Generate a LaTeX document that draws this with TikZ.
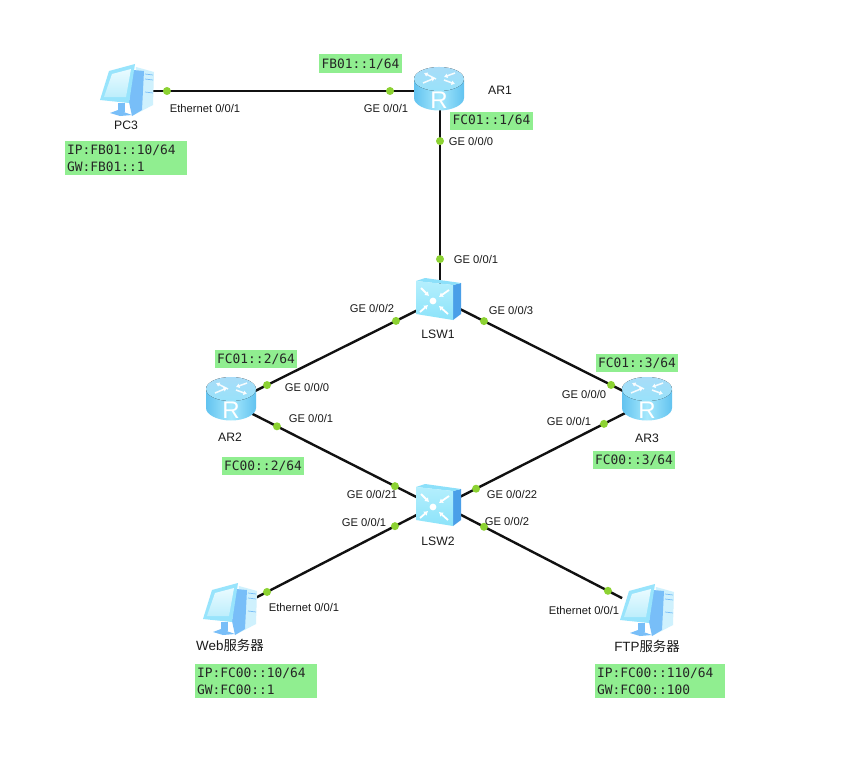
\documentclass[tikz,border=0pt]{standalone}
\usepackage{fontspec}
\setmainfont{Liberation Sans}
\newfontfamily\cjkfam{Noto Sans CJK SC}
\newfontfamily\boxfam{DejaVu Sans Mono}
\usetikzlibrary{arrows.meta}
\definecolor{linkc}{HTML}{111111}
\definecolor{dotc}{HTML}{8CD232}
\definecolor{boxc}{HTML}{90EE90}
\definecolor{txtc}{HTML}{1A1A1A}
\definecolor{rside}{HTML}{62C3F0}
\definecolor{rmid}{HTML}{A6E8FC}
\definecolor{rtopa}{HTML}{A8DCF8}
\definecolor{rtopb}{HTML}{98E2FA}
\definecolor{swtop}{HTML}{8CE0FA}
\definecolor{swside}{HTML}{4A9FE8}
\definecolor{swa}{HTML}{B4EFFD}
\definecolor{swb}{HTML}{8CE3FA}
\definecolor{pcdark}{HTML}{78BEF8}
\definecolor{pclight}{HTML}{CFF1FD}
\definecolor{pcmon}{HTML}{98E4FC}
\definecolor{pcscra}{HTML}{EAFBFF}
\definecolor{pcscrb}{HTML}{BDEEFC}
\tikzset{
  x=1pt,y=-1pt,
  device/.style={inner sep=0pt,minimum width=50pt,minimum height=44pt},
  link/.style={draw=linkc,line width=2.4pt},
  port/.style={circle,fill=dotc,inner sep=0pt,minimum size=8pt},
  lbl/.style={inner sep=0pt,font=\fontsize{11.2}{13}\selectfont,text=txtc},
  dev/.style={inner sep=0pt,font=\fontsize{12.2}{14}\selectfont,text=txtc},
  srv/.style={inner sep=0pt,font=\fontsize{13.4}{15}\selectfont,text=txtc},
  gbox/.style={fill=boxc,inner sep=0pt,align=left,text=black!85,
    font=\fontsize{12.9}{17}\selectfont\boxfam},
  gboxtwo/.style={gbox,inner xsep=2pt,minimum height=34pt},
  arr/.style={draw=white,line width=1.8pt,-{Latex[length=4pt,width=5.5pt]}},
  rarr/.style={draw=white,line width=1.5pt,opacity=.9,-{Latex[length=3.5pt,width=5pt]}},
  router/.pic={
    \path[left color=rside,right color=rside,middle color=rmid]
      (-25,-9) -- (-25,9) .. controls (-25,15.6) and (-13.8,21.5) .. (0,21.5)
      .. controls (13.8,21.5) and (25,15.6) .. (25,9) -- (25,-9) -- cycle;
    \fill[top color=rtopa,bottom color=rtopb] (0,-10) ellipse [x radius=25pt,y radius=12pt];
    \draw[rarr] (-3,-10) -- (-15,-16);
    \draw[rarr] (16,-16) -- (5,-12);
    \draw[rarr] (-16,-6) -- (-4,-11);
    \draw[rarr] (5,-9) -- (16,-5);
    \node[text=white,inner sep=0pt,font=\fontsize{24}{24}\selectfont] at (0,11) {R};
  },
  switchicon/.pic={
    \fill[color=swside] (15,-14) -- (23,-16) -- (23,15) -- (15,21) -- cycle;
    \fill[color=swtop] (-22,-18) -- (-13,-21) -- (23,-16) -- (15,-14) -- cycle;
    \path[top color=swa,bottom color=swb]
      (-22,-18) -- (15,-14) -- (15,21) -- (-22,15) -- cycle;
    \fill[white] (-5,2) circle [radius=3.4pt];
    \draw[arr] (-17,-11) -- (-9,-3);
    \draw[arr] (11,-9) -- (1,-2);
    \draw[arr] (-18,13) -- (-10,6);
    \draw[arr] (10,15) -- (1,7);
  },
  pcicon/.pic={
    \fill[color=pclight] (9,-25) -- (27,-20) -- (26,13) -- (5,24) -- cycle;
    \fill[color=pcdark] (6,-22) -- (17,-21) -- (15,18) -- (5,24) -- (2,10) -- cycle;
    \draw[pcdark,line width=.7pt] (18,-18) -- (26,-17) (18,-13) -- (26,-12) (18,0) -- (26,1);
    \fill[color=pcdark] (-9,11) -- (-2,11) -- (-2,20) -- (-9,20) -- cycle;
    \fill[color=pcdark] (-17,21) -- (-9,18) -- (5,23) -- (-7,24) -- cycle;
    \fill[color=pcmon] (-18,-21) -- (8,-28) -- (2,11) -- (-27,8) -- cycle;
    \path[top color=pcscra,bottom color=pcscrb] (-15,-18) -- (4,-23) -- (-1,5) -- (-23,5) -- cycle;
  },
}
\begin{document}
\begin{tikzpicture}
\useasboundingbox (0,0) rectangle (865,768);
\fill[white] (0,0) rectangle (865,768);
% device anchors
\node[device] (pc3) at (127,92) {};
\node[device] (ar1) at (439,89) {};
\node[device] (lsw1) at (438,299) {};
\node[device] (ar2) at (231,399) {};
\node[device] (ar3) at (647,399) {};
\node[device] (lsw2) at (438,505) {};
\node[device] (web) at (230,611) {};
\node[device] (ftp) at (647,612) {};
% connectors
\draw[link,shorten <=26pt] ([yshift=1pt]pc3.center) -- node[port,pos=.128] (p1) {} node[port,pos=.843] (p2) {} ([yshift=-2pt]ar1.center);
\draw[link] ([xshift=1pt]ar1.center) -- node[port,pos=.248] (p3) {} node[port,pos=.81] (p4) {} ([xshift=2pt]lsw1.center);
\draw[link] ([yshift=-1pt]lsw1.center) -- node[port,pos=.203] (p5) {} node[port,pos=.826] (p6) {} ([yshift=-4pt]ar2.center);
\draw[link] ([yshift=1pt]lsw1.center) -- node[port,pos=.22] (p7) {} node[port,pos=.828] (p8) {} ([yshift=-4pt]ar3.center);
\draw[link] ([yshift=-4pt]ar2.center) -- node[port,pos=.222] (p9) {} node[port,pos=.792] (p10) {} ([yshift=-3pt]lsw2.center);
\draw[link] ([yshift=-3pt]ar3.center) -- node[port,pos=.206] (p11) {} node[port,pos=.818] (p12) {} ([yshift=-3pt]lsw2.center);
\draw[link,shorten >=30pt] ([yshift=1pt]lsw2.center) -- node[port,pos=.207] (p13) {} node[port,pos=.822] (p14) {} (web.center);
\draw[link,shorten >=28pt] ([yshift=2pt]lsw2.center) -- node[port,pos=.22] (p15) {} node[port,pos=.813] (p16) {} ([yshift=1pt]ftp.center);
% icons
\pic at (pc3) {pcicon};
\pic at (web) {pcicon};
\pic at (ftp) {pcicon};
\pic at (ar1) {router};
\pic at (ar2) {router};
\pic at (ar3) {router};
\pic at (lsw1) {switchicon};
\pic at (lsw2) {switchicon};
% device labels
\node[dev] (tpc3) at (126,125) {PC3};
\node[dev] (tar1) at (500,90) {AR1};
\node[dev] (tar2) at (230,437) {AR2};
\node[dev] (tar3) at (647,438) {AR3};
\node[dev] (tl1) at (438,334) {LSW1};
\node[dev] (tl2) at (438,541) {LSW2};
\node[srv] (tweb) at (230,645) {Web{\cjkfam 服务器}};
\node[srv] (tftp) at (647,646) {FTP{\cjkfam 服务器}};
% port labels
\node[lbl] (e1) at (205,108) {Ethernet 0/0/1};
\node[lbl] (e2) at (386,108) {GE 0/0/1};
\node[lbl] (e3) at (471,141) {GE 0/0/0};
\node[lbl] (e4) at (476,259) {GE 0/0/1};
\node[lbl] (e5) at (372,308) {GE 0/0/2};
\node[lbl] (e6) at (511,310) {GE 0/0/3};
\node[lbl] (e7) at (307,387) {GE 0/0/0};
\node[lbl] (e8) at (311,418) {GE 0/0/1};
\node[lbl] (e9) at (584,394) {GE 0/0/0};
\node[lbl] (e10) at (569,421) {GE 0/0/1};
\node[lbl] (e11) at (372,494) {GE 0/0/21};
\node[lbl] (e12) at (512,494) {GE 0/0/22};
\node[lbl] (e13) at (364,522) {GE 0/0/1};
\node[lbl] (e14) at (507,521) {GE 0/0/2};
\node[lbl] (e15) at (304,607) {Ethernet 0/0/1};
\node[lbl] (e16) at (584,610) {Ethernet 0/0/1};
% address boxes
\node[gbox,minimum width=83pt,minimum height=19pt] (b1) at (360.5,64) {FB01::1/64};
\node[gbox,minimum width=83pt,minimum height=18pt] (b2) at (491.5,120.5) {FC01::1/64};
\node[gboxtwo,text width=118pt] (b3) at (126,158) {IP:FB01::10/64\\GW:FB01::1};
\node[gbox,minimum width=82pt,minimum height=18pt] (b4) at (256,359) {FC01::2/64};
\node[gbox,minimum width=82pt,minimum height=18pt] (b5) at (263,466) {FC00::2/64};
\node[gbox,minimum width=82pt,minimum height=18pt] (b6) at (637,363) {FC01::3/64};
\node[gbox,minimum width=82pt,minimum height=18pt] (b7) at (634,460) {FC00::3/64};
\node[gboxtwo,text width=118pt] (b8) at (256,681) {IP:FC00::10/64\\GW:FC00::1};
\node[gboxtwo,text width=126pt] (b9) at (660,681) {IP:FC00::110/64\\GW:FC00::100};
\end{tikzpicture}
\end{document}
